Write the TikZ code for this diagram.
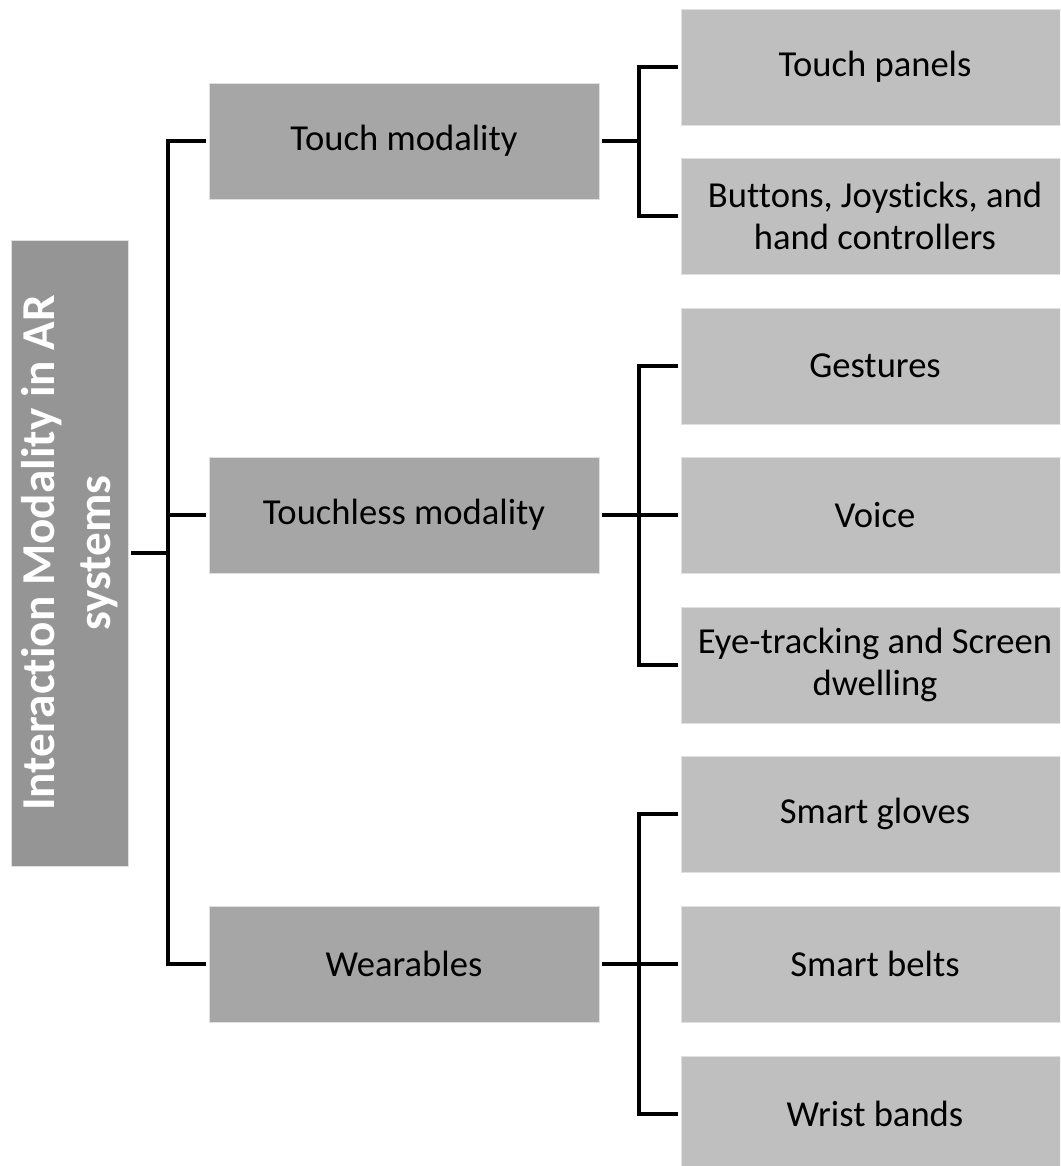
\documentclass[tikz,border=0pt]{standalone}
\usepackage{fontspec}
\setmainfont{Carlito}[Ligatures=NoCommon]
\usetikzlibrary{positioning}

\begin{document}
\begin{tikzpicture}[x=0.5pt,y=-0.5pt,
                box/.style={draw=black!12, line width=0.4pt, align=center, inner sep=0pt, outer sep=1.5pt,
                    font=\fontsize{18.3}{20.7}\selectfont},
                rootbox/.style={box, fill=rootgray, text=white, rotate=90,
                    font=\bfseries\fontsize{23.6}{28}\selectfont, minimum width=313pt, minimum height=58.5pt},
                midbox/.style={box, fill=midgray, minimum width=195pt, minimum height=58pt},
                leafbox/.style={box, fill=leafgray, minimum width=194pt, minimum height=58pt},
                link/.style={line width=1.6pt}]
                \definecolor{rootgray}{RGB}{149,149,149}
                \definecolor{midgray}{RGB}{166,166,166}
                \definecolor{leafgray}{RGB}{191,191,191}
                
                \useasboundingbox (0,0) rectangle (1060,1166);
                \clip (0,0) rectangle (1060,1166);
                
                % root, turned on its side: its south anchor faces right
                \node[rootbox] (root) at (69.5,553) {Interaction Modality in AR\\systems};
                
                \node[midbox] (touch) at (404,141) {Touch modality};
                \node[midbox] (touchless) at (404,515) {Touchless modality};
                \node[midbox] (wear) at (404,964) {Wearables};
                
                \node[leafbox] (panels) at (875,67) {Touch panels};
                \node[leafbox] (buttons) at (875,216) {Buttons, Joysticks, and\\hand controllers};
                \node[leafbox] (gestures) at (875,366) {Gestures};
                \node[leafbox] (voice) at (875,515) {Voice};
                \node[leafbox] (eye) at (875,665) {Eye-tracking and Screen\\dwelling};
                \node[leafbox] (gloves) at (875,814) {Smart gloves};
                \node[leafbox] (belts) at (875,964) {Smart belts};
                \node[leafbox] (wrist) at (875,1114) {Wrist bands};
                
                \coordinate (rootbus) at (168,553);
                \coordinate (touchbus) at (639,141);
                \coordinate (touchlessbus) at (639,515);
                \coordinate (wearbus) at (639,964);
                
                \draw[link] (root.south) -- (rootbus);
                \draw[link] (touch.west) -| (rootbus) |- (wear.west);
                \draw[link] (rootbus |- touchless.west) -- (touchless.west);
                
                \draw[link] (touch.east) -- (touchbus);
                \draw[link] (panels.west) -| (touchbus) |- (buttons.west);
                
                \draw[link] (touchless.east) -- (voice.west);
                \draw[link] (gestures.west) -| (touchlessbus) |- (eye.west);
                
                \draw[link] (wear.east) -- (belts.west);
                \draw[link] (gloves.west) -| (wearbus) |- (wrist.west);
            \end{tikzpicture}
\end{document}
